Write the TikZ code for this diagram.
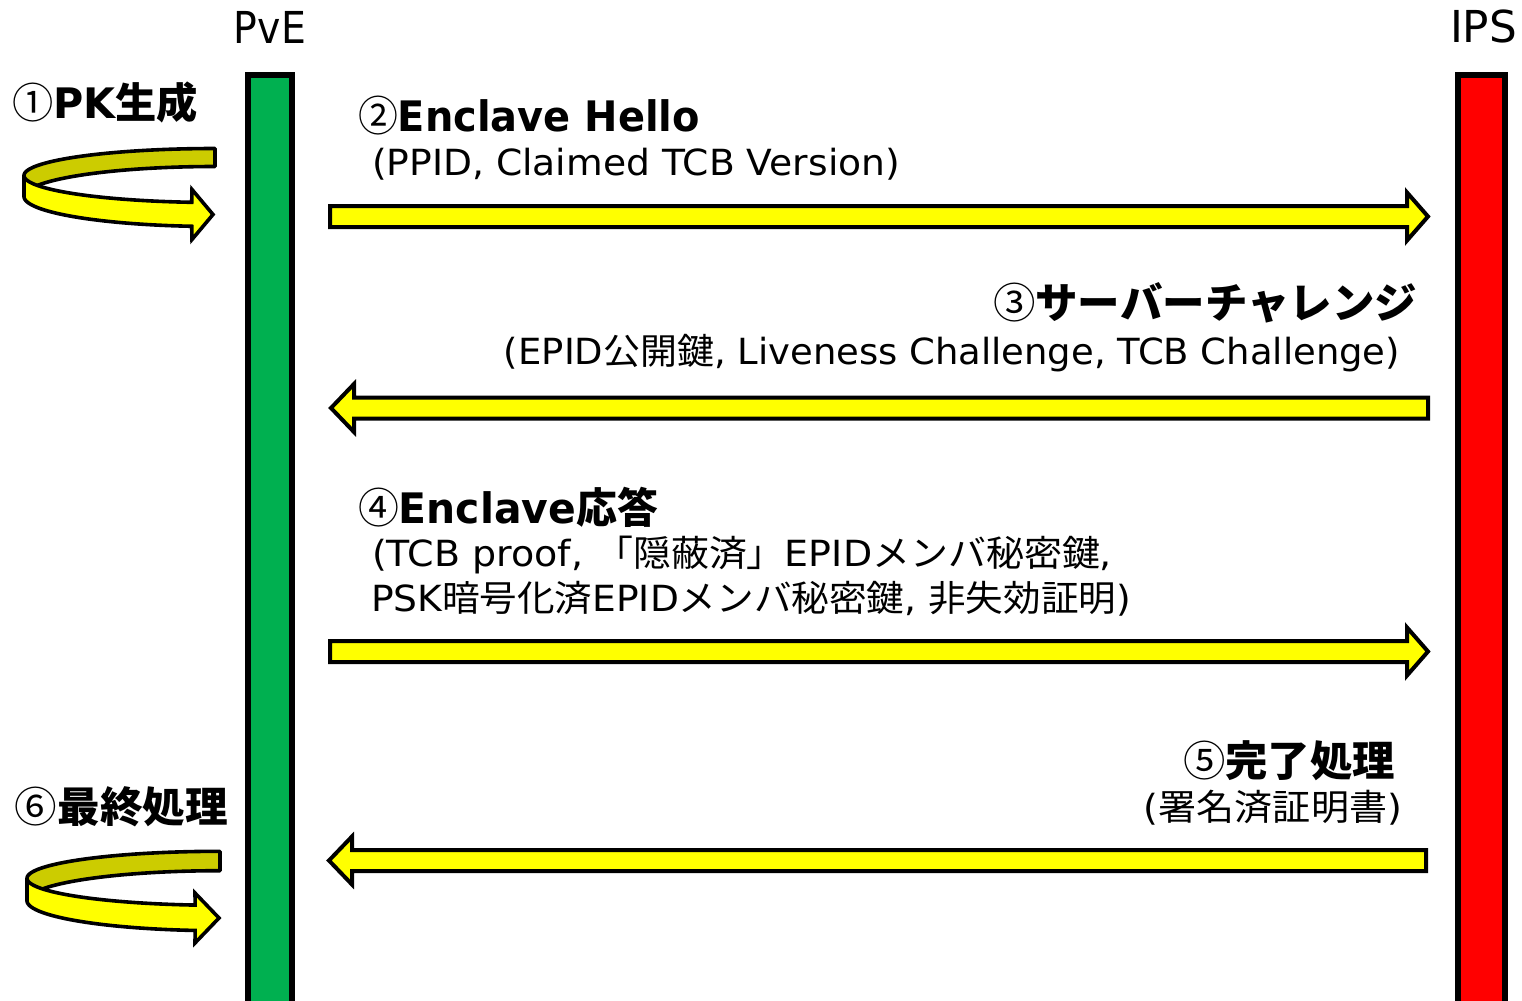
\documentclass[tikz,border=0pt]{standalone}
\usepackage{fontspec}
\setmainfont{DejaVu Sans}
\newfontfamily\cjk{Noto Sans CJK JP}
\newcommand\jp[1]{{\cjk #1}}
\newcommand\cn[1]{{\cjk\mdseries #1}}
\definecolor{pvegreen}{HTML}{00B050}
\definecolor{ipsred}{HTML}{FF0000}
\definecolor{arrowyellow}{HTML}{FFFF00}
\definecolor{backolive}{HTML}{CCCC00}
\tikzset{
  hdr/.style={font=\fontsize{22}{26}\selectfont, inner sep=0pt, outer sep=0pt},
  ttl/.style={font=\fontsize{21}{25}\selectfont\bfseries, inner sep=0pt, outer sep=0pt, anchor=base west},
  subtxt/.style={font=\fontsize{18}{22}\selectfont, inner sep=0pt, outer sep=0pt, anchor=base west},
  lifebar/.style={line width=3.2pt},
  blockarrow/.style={fill=arrowyellow, draw=black, line width=2pt, line join=miter},
  bandback/.style={fill=backolive, draw=black, line width=1.8pt, line join=round},
  bandfront/.style={fill=arrowyellow, draw=black, line width=1.8pt, line join=miter},
}
% right block arrow: tail x, tip x, centre y
\newcommand\rblock[3]{%
  \filldraw[blockarrow] (#1,#3-10.5) -- (#2-21,#3-10.5) -- (#2-21,#3-24) -- (#2,#3)
    -- (#2-21,#3+24) -- (#2-21,#3+10.5) -- (#1,#3+10.5) -- cycle;}
% left block arrow: tip x, tail x, centre y
\newcommand\lblock[3]{%
  \filldraw[blockarrow] (#1,#3) -- (#1+23,#3-24) -- (#1+23,#3-10.5) -- (#2,#3-10.5)
    -- (#2,#3+10.5) -- (#1+23,#3+10.5) -- (#1+23,#3+24) -- cycle;}
% self arrow: cx, cy, a, b, h0, end angle, head back x, head tip x
\newcommand\selfarrow[8]{%
  \filldraw[bandback]
    plot[domain=90:180, samples=50, variable=\t] ({#1+#3*cos(\t)}, {#2-#4*sin(\t)-(#5-1.5*sin(\t))})
    -- plot[domain=180:90, samples=50, variable=\t] ({#1+#3*cos(\t)}, {#2-#4*sin(\t)+(#5-1.5*sin(\t))})
    -- cycle;
  \filldraw[bandfront]
    plot[domain=180:#6, samples=50, variable=\t] ({#1+#3*cos(\t)}, {#2-#4*sin(\t)-(#5-1.5*sin(\t))})
    -- (#7,{#2+#4-25}) -- (#8,{#2+#4}) -- (#7,{#2+#4+25})
    -- plot[domain=#6:180, samples=50, variable=\t] ({#1+#3*cos(\t)}, {#2-#4*sin(\t)+(#5-1.5*sin(\t))})
    -- cycle;}
\begin{document}
\begin{tikzpicture}[x=0.5pt,y=-0.5pt]
\useasboundingbox (0,0) rectangle (1522,1001);
\fill[white] (0,0) rectangle (1522,1001);
\clip (0,0) rectangle (1522,1001);

% life lines
\filldraw[lifebar, fill=pvegreen] (248,75) rectangle (292,1012);
\filldraw[lifebar, fill=ipsred] (1458,75) rectangle (1505,1012);
\node[hdr, anchor=base] (pve) at (270,43) {\resizebox{36pt}{\height}{PvE}};
\node[hdr, anchor=base west] (ips) at (1450,42) {\resizebox{33.5pt}{\height}{IPS}};

% self arrows
\selfarrow{215}{186}{191}{28.5}{10.5}{263}{192}{213}
\selfarrow{220}{889.5}{193}{28.5}{11.2}{262.6}{195}{219}

% message arrows
\rblock{330}{1428}{216.5}
\lblock{331}{1428}{408}
\rblock{330}{1428}{651.5}
\lblock{329}{1426}{860.5}

% labels
\node[ttl] (t1) at (12,118) {\resizebox{93pt}{\height}{\cn{①}PK\jp{生成}}};
\node[ttl] (t2) at (358,131) {\resizebox{171pt}{\height}{\cn{②}Enclave Hello}};
\node[subtxt] (s2) at (372,175) {\resizebox{264pt}{\height}{(PPID, Claimed TCB Version)}};
\node[ttl, anchor=base east] (t3) at (1417,318) {\resizebox{212pt}{\height}{\cn{③}\jp{サーバーチャレンジ}}};
\node[subtxt, anchor=base east] (s3) at (1400,364) {\resizebox{448pt}{\height}{(EPID\jp{公開鍵}, Liveness Challenge, TCB Challenge)}};
\node[ttl] (t4) at (358,523) {\resizebox{150pt}{\height}{\cn{④}Enclave\jp{応答}}};
\node[subtxt] (s4a) at (372,566) {\resizebox{370pt}{\height}{(TCB proof, \jp{「隠蔽済」}EPID\jp{メンバ秘密鍵},}};
\node[subtxt] (s4b) at (371,611) {\resizebox{380pt}{\height}{PSK\jp{暗号化済}EPID\jp{メンバ秘密鍵}, \jp{非失効証明})}};
\node[ttl, anchor=base east] (t5) at (1395,776) {\resizebox{106pt}{\height}{\cn{⑤}\jp{完了処理}}};
\node[subtxt, anchor=base east] (s5) at (1402,820) {\resizebox{129pt}{\height}{(\jp{署名済証明書})}};
\node[ttl] (t6) at (15,822) {\resizebox{106.5pt}{\height}{\cn{⑥}\jp{最終処理}}};
\end{tikzpicture}
\end{document}
